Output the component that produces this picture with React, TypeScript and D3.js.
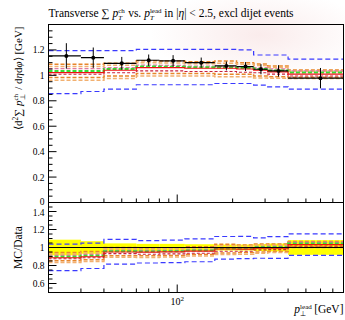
import React from 'react';
import * as d3 from 'd3';

// bin edges in p_T lead [GeV]
const binEdges = [20, 30, 40, 60, 80, 110, 160, 210, 260, 310, 400, 800];

// data points and their errors
const dataVals = [1.153, 1.139, 1.095, 1.119, 1.114, 1.1, 1.074, 1.069, 1.048, 1.035, 0.978];
const dataErrs = [0.1, 0.08, 0.05, 0.045, 0.045, 0.04, 0.035, 0.035, 0.04, 0.045, 0.08];

// MC curves
const blueUp = [1.195, 1.195, 1.195, 1.205, 1.205, 1.205, 1.205, 1.2, 1.16, 1.16, 1.127];
const blueDn = [0.857, 0.873, 0.892, 0.926, 0.926, 0.926, 0.936, 0.936, 0.923, 0.91, 0.892];
const orangeUp1 = [1.088, 1.088, 1.095, 1.114, 1.112, 1.108, 1.113, 1.1, 1.09, 1.074, 1.043];
const orangeUp2 = [1.069, 1.069, 1.08, 1.1, 1.098, 1.092, 1.095, 1.088, 1.078, 1.062, 1.03];
const orangeDn1 = [0.983, 0.983, 0.995, 1.015, 1.015, 1.014, 1.009, 1.009, 0.995, 0.99, 0.985];
const orangeDn2 = [0.962, 0.962, 0.975, 0.995, 0.995, 0.995, 0.99, 0.99, 0.98, 0.978, 0.975];
const pinkUp = [1.053, 1.053, 1.06, 1.08, 1.078, 1.072, 1.07, 1.066, 1.06, 1.05, 1.035];
const crimsonDn = [1.009, 1.009, 1.02, 1.035, 1.035, 1.03, 1.03, 1.025, 1.02, 1.01, 0.995];
const greenVals = [1.035, 1.035, 1.05, 1.07, 1.068, 1.064, 1.062, 1.058, 1.05, 1.038, 1.022];
const redVals = [1.022, 1.022, 1.04, 1.061, 1.061, 1.056, 1.056, 1.05, 1.04, 1.027, 1.009];

const mainTicks = [0, 0.2, 0.4, 0.6, 0.8, 1, 1.2];
const ratioTicks = [0.6, 0.8, 1, 1.2, 1.4];
const xMinor = [20, 30, 40, 50, 60, 70, 80, 90, 200, 300, 400, 500, 600, 700, 800];
const xMajor = [100];

const W = 345;
const H = 320;
const left = 48.5;
const right = 343.5;
const top = 24.5;
const mid = 202.5;
const bottom = 292.5;
const font = 'Liberation Serif';

const x = d3.scaleLog().domain([20, 800]).range([left, right]);
const y = d3.scaleLinear().domain([0, 1.4]).range([mid, top]);
const yr = d3.scaleLinear().domain([0.5, 1.5]).range([bottom, mid]);

const series = [
  { vals: blueUp, color: '#3a3aff', dash: '5,3', w: 1.2 },
  { vals: blueDn, color: '#3a3aff', dash: '5,3', w: 1.2 },
  { vals: orangeUp1, color: '#e8862a', dash: '4,2', w: 1.5 },
  { vals: orangeUp2, color: '#f2b070', dash: '4,2', w: 1.5 },
  { vals: orangeDn1, color: '#e8862a', dash: '4,2', w: 1.5 },
  { vals: orangeDn2, color: '#f2b070', dash: '4,2', w: 1.5 },
  { vals: pinkUp, color: '#e07aa0', dash: '4,2', w: 1.3 },
  { vals: crimsonDn, color: '#c8203c', dash: '3,2', w: 1.1 },
  { vals: greenVals, color: '#33dd33', dash: '4,2', w: 2 },
  { vals: redVals, color: '#ee1111', dash: '', w: 1.2 }
];

const line = d3.line();
const stepPath = (vals: number[], ys: (v: number) => number) =>
  line(vals.flatMap((v, i) => [[x(binEdges[i]), ys(v)], [x(binEdges[i + 1]), ys(v)]] as [number, number][])) || '';

const minorOf = (lo: number, hi: number, majors: number[]) =>
  d3.range(Math.round(lo * 20), Math.round(hi * 20) + 1)
    .map(k => k / 20)
    .filter(v => !majors.some(m => Math.abs(m - v) < 1e-6));

const fmt = (v: number) => (v === 0 || v === 1 ? String(v) : v.toFixed(1));

export default function App() {
  const mainMinor = minorOf(0, 1.4, mainTicks);
  const ratioMinor = minorOf(0.5, 1.5, ratioTicks);
  return (
    <div style={{ position: 'fixed', left: 0, top: 0 }}>
      <svg width={W} height={H} style={{ display: 'block', background: '#fff' }} fontFamily={font}>
        <defs>
          <radialGradient id="wm" cx="0.5" cy="0.5" r="0.5">
            <stop offset="0" stopColor="#f4d4d4" stopOpacity={0.45} />
            <stop offset="1" stopColor="#f4d4d4" stopOpacity={0} />
          </radialGradient>
          <clipPath id="cm"><rect x={left} y={top} width={right - left} height={mid - top} /></clipPath>
          <clipPath id="cr"><rect x={left} y={mid} width={right - left} height={bottom - mid} /></clipPath>
        </defs>
        <ellipse cx={260} cy={35} rx={110} ry={45} fill="url(#wm)" />

        {/* title */}
        <text x={left} y={17} fontSize={11.5} fill="#000">
          Transverse ∑ <tspan fontStyle="italic">p</tspan>
          <tspan fontSize={7} dy={-4.5}>ch</tspan>
          <tspan fontSize={7} fontStyle="italic" dx={-6.5} dy={7.5}>T</tspan>
          <tspan dy={-3} dx={3}> vs. </tspan>
          <tspan fontStyle="italic">p</tspan>
          <tspan fontSize={7} dy={-4.5}>lead</tspan>
          <tspan fontSize={7} fontStyle="italic" dx={-11.5} dy={7.5}>T</tspan>
          <tspan dy={-3} dx={7.5}> in |</tspan>
          <tspan fontStyle="italic">η</tspan>| &lt; 2.5, excl dijet events
        </text>

        {/* main panel curves */}
        <g clipPath="url(#cm)">
          {series.map((s, i) => (
            <path key={i} d={stepPath(s.vals, y)} fill="none" stroke={s.color}
              strokeWidth={s.w} strokeDasharray={s.dash || undefined} />
          ))}
          {dataVals.map((d, i) => {
            const cx = x((binEdges[i] + binEdges[i + 1]) / 2);
            return (
              <g key={i}>
                <line x1={x(binEdges[i])} x2={x(binEdges[i + 1])} y1={y(d)} y2={y(d)} stroke="#000" strokeWidth={1.2} />
                <line x1={cx} x2={cx} y1={y(d - dataErrs[i])} y2={y(d + dataErrs[i])} stroke="#000" strokeWidth={1} />
                <circle cx={cx} cy={y(d)} r={2} fill="#000" />
              </g>
            );
          })}
        </g>

        {/* ratio panel */}
        <g clipPath="url(#cr)">
          {dataVals.map((d, i) => (
            <rect key={i} x={x(binEdges[i])} width={x(binEdges[i + 1]) - x(binEdges[i])}
              y={yr(1 + dataErrs[i] / d)} height={yr(1 - dataErrs[i] / d) - yr(1 + dataErrs[i] / d)} fill="#ffff00" />
          ))}
          {series.map((s, i) => (
            <path key={i} d={stepPath(s.vals.map((v, j) => v / dataVals[j]), yr)} fill="none" stroke={s.color}
              strokeWidth={s.w} strokeDasharray={s.dash || undefined} />
          ))}
          <line x1={left} x2={right} y1={yr(1)} y2={yr(1)} stroke="#000" strokeWidth={1.2} />
        </g>

        {/* frames */}
        <rect x={left} y={top} width={right - left} height={bottom - top} fill="none" stroke="#000" strokeWidth={1} />
        <line x1={left} x2={right} y1={mid} y2={mid} stroke="#000" strokeWidth={1} />

        {/* y ticks main */}
        {mainTicks.map(t => (
          <g key={'m' + t}>
            <line x1={left} x2={left + 8} y1={y(t)} y2={y(t)} stroke="#000" />
            <text x={left - 4} y={y(t) + (t === 0 ? 2 : 3.5)} fontSize={9.5} textAnchor="end">{fmt(t)}</text>
          </g>
        ))}
        {mainMinor.map(t => (
          <line key={'mm' + t} x1={left} x2={left + 4} y1={y(t)} y2={y(t)} stroke="#000" />
        ))}
        {/* y ticks ratio */}
        {ratioTicks.map(t => (
          <g key={'r' + t}>
            <line x1={left} x2={left + 8} y1={yr(t)} y2={yr(t)} stroke="#000" />
            <text x={left - 4} y={yr(t) + (t === 1.4 ? 4 : 3.5)} fontSize={9.5} textAnchor="end">{fmt(t)}</text>
          </g>
        ))}
        {ratioMinor.map(t => (
          <line key={'rm' + t} x1={left} x2={left + 4} y1={yr(t)} y2={yr(t)} stroke="#000" />
        ))}

        {/* x ticks */}
        {[mid, bottom].map(yy => (
          <g key={'x' + yy}>
            {xMinor.map(t => (
              <line key={t} x1={x(t)} x2={x(t)} y1={yy} y2={yy - 4} stroke="#000" />
            ))}
            {xMajor.map(t => (
              <line key={t} x1={x(t)} x2={x(t)} y1={yy} y2={yy - 8} stroke="#000" />
            ))}
          </g>
        ))}
        {xMajor.map(t => (
          <text key={t} x={x(t)} y={305} fontSize={10} textAnchor="middle">
            10<tspan fontSize={7} dy={-4}>2</tspan>
          </text>
        ))}

        {/* axis labels */}
        <text transform={`translate(22,${top + 2}) rotate(-90)`} fontSize={11} textAnchor="end">
          ⟨d<tspan fontSize={7.5} dy={-4}>2</tspan>
          <tspan dy={4}>∑ </tspan>
          <tspan fontStyle="italic">p</tspan>
          <tspan fontSize={7} dy={-4.5}>ch</tspan>
          <tspan fontSize={7} dx={-6.5} dy={7.5}>⊥</tspan>
          <tspan dy={-3} dx={2}> / d</tspan>
          <tspan fontStyle="italic">η</tspan>d<tspan fontStyle="italic">φ</tspan>⟩ [GeV]
        </text>
        <text transform={`translate(22,${yr(1)}) rotate(-90)`} fontSize={11.5} textAnchor="middle">MC/Data</text>
        <text x={right} y={313} fontSize={11.5} textAnchor="end">
          <tspan fontStyle="italic">p</tspan>
          <tspan fontSize={7} dy={-4.5}>lead</tspan>
          <tspan fontSize={7} dx={-11.5} dy={7.5}>⊥</tspan>
          <tspan dy={-3} dx={5}> [GeV]</tspan>
        </text>
      </svg>
    </div>
  );
}
